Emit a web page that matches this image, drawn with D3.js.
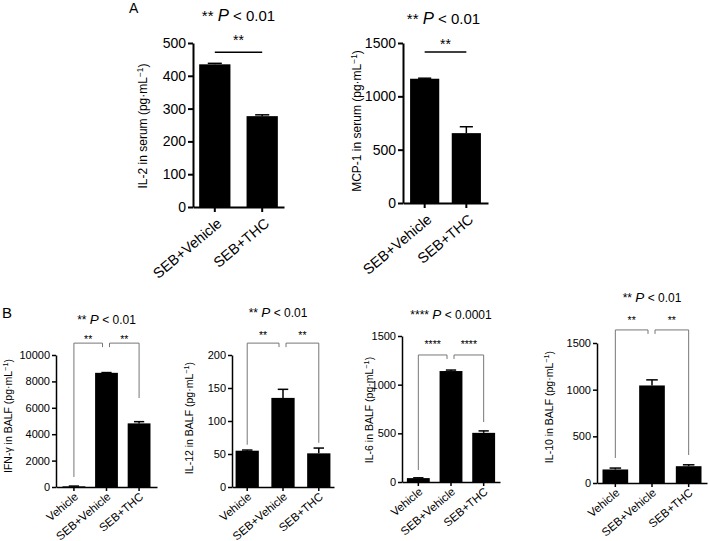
<!DOCTYPE html>
<html>
<head>
<meta charset="utf-8">
<script src="https://cdn.jsdelivr.net/npm/d3@7/dist/d3.min.js"></script>
<style>
  html, body { margin: 0; padding: 0; background: #fff; }
  svg { display: block; }
</style>
</head>
<body>
<svg id="chart" width="709" height="541"></svg>
<script>
// ---------------- DATA ----------------
const groupsA = ["SEB+Vehicle", "SEB+THC"];
const groupsB = ["Vehicle", "SEB+Vehicle", "SEB+THC"];

const il2Mean = [435, 277];
const il2Err = [3, 4];
const il2Ticks = [0, 100, 200, 300, 400, 500];

const mcp1Mean = [1165, 655];
const mcp1Err = [5, 60];
const mcp1Ticks = [0, 500, 1000, 1500];

const ifnMean = [50, 8650, 4820];
const ifnErr = [20, 20, 130];
const ifnTicks = [0, 2000, 4000, 6000, 8000, 10000];

const il12Mean = [55, 135, 51];
const il12Err = [1, 13, 8];
const il12Ticks = [0, 50, 100, 150, 200];

const il6Mean = [40, 1140, 505];
const il6Err = [3, 10, 20];
const il6Ticks = [0, 500, 1000, 1500];

const il10Mean = [145, 1045, 180];
const il10Err = [15, 60, 15];
const il10Ticks = [0, 500, 1000, 1500];

// significance annotations (values in data units: bracket top, left end, right end)
const il2Sig = ["**", 472];
const mcp1Sig = ["**", 1416];
const ifnSig = ["**", 10900, 760, 6740];
const il12Sig = ["**", 218, 64, 67];
const il6Sig = ["****", 1305, 123, 616];
const il10Sig = ["**", 1640, 268, 300];

const titles = {
  il2: ["** ", "P", " < 0.01"],
  mcp1: ["** ", "P", " < 0.01"],
  ifn: ["** ", "P", " < 0.01"],
  il12: ["** ", "P", " < 0.01"],
  il6: ["**** ", "P", " < 0.0001"],
  il10: ["** ", "P", " < 0.01"]
};

const yLabels = {
  il2: "IL-2 in serum",
  mcp1: "MCP-1 in serum",
  ifn: "IFN-γ in BALF",
  il12: "IL-12 in BALF",
  il6: "IL-6 in BALF",
  il10: "IL-10 in BALF"
};

// ---------------- DRAWING ----------------
const FONT = "'Liberation Sans', Arial, Helvetica, sans-serif";
const svg = d3.select("#chart").style("font-family", FONT);

function drawPanel(p) {
  const g = svg.append("g");
  const x = d3.scaleBand().domain(p.cats).range([p.x0, p.x1])
    .paddingInner(p.pin).paddingOuter(p.pout);
  const y = d3.scaleLinear().domain([0, p.max]).range([p.yBot, p.yTop]);

  // bars
  g.selectAll("rect.bar").data(p.mean).join("rect")
    .attr("x", (d, i) => x(p.cats[i]))
    .attr("width", x.bandwidth())
    .attr("y", d => y(d))
    .attr("height", d => y(0) - y(d))
    .attr("fill", "#000");

  // error bars (upper only)
  const capW = x.bandwidth() * 0.45;
  p.mean.forEach((m, i) => {
    const cx = x(p.cats[i]) + x.bandwidth() / 2;
    g.append("line").attr("x1", cx).attr("x2", cx)
      .attr("y1", y(m)).attr("y2", y(m + p.err[i]))
      .attr("stroke", "#000").attr("stroke-width", 1.5);
    g.append("line").attr("x1", cx - capW / 2).attr("x2", cx + capW / 2)
      .attr("y1", y(m + p.err[i])).attr("y2", y(m + p.err[i]))
      .attr("stroke", "#000").attr("stroke-width", 1.5);
  });

  // y axis
  const ya = g.append("g").attr("transform", `translate(${p.x0},0)`)
    .call(d3.axisLeft(y).tickValues(p.ticks).tickFormat(d3.format("d"))
      .tickSize(p.tick).tickSizeOuter(0).tickPadding(2));
  ya.selectAll("path,line").attr("stroke", "#000").attr("stroke-width", p.sw);
  ya.selectAll("text").attr("font-size", p.fs).attr("fill", "#000").attr("font-family", FONT);

  // x axis
  const xa = g.append("g").attr("transform", `translate(0,${p.yBot})`)
    .call(d3.axisBottom(x).tickSize(p.tick).tickSizeOuter(0));
  xa.selectAll("path,line").attr("stroke", "#000").attr("stroke-width", p.sw);
  xa.selectAll("text")
    .attr("font-size", p.cfs).attr("fill", "#000").attr("font-family", FONT)
    .attr("x", 0).attr("y", 0).attr("dy", 0)
    .attr("text-anchor", "end")
    .attr("transform", `translate(${p.lx},${p.ly}) rotate(${p.rot})`);

  // y label
  const lab = g.append("text")
    .attr("transform", `translate(${p.labX},${p.labY}) rotate(-90)`)
    .attr("text-anchor", "middle").attr("font-size", p.lfs).attr("fill", "#000");
  lab.append("tspan").text(p.label + " (pg·mL");
  lab.append("tspan").attr("dy", -p.lfs * 0.35).attr("font-size", p.lfs * 0.7).text("−1");
  lab.append("tspan").attr("dy", p.lfs * 0.35).text(")");

  // title
  const cx = (p.x0 + p.x1) / 2 + (p.tdx || 0);
  const t = g.append("text").attr("x", cx).attr("y", p.titleY)
    .attr("text-anchor", "middle").attr("font-size", p.tfs).attr("fill", "#000");
  t.append("tspan").text(p.title[0]);
  t.append("tspan").attr("font-style", "italic").attr("font-size", p.tfs * 1.12).text(p.title[1]);
  t.append("tspan").text(p.title[2]);

  const c = p.cats.map(k => x(k) + x.bandwidth() / 2);

  if (p.cats.length === 2) {
    const ly = y(p.sig[1]);
    g.append("line").attr("x1", c[0]).attr("x2", c[1]).attr("y1", ly).attr("y2", ly)
      .attr("stroke", "#000").attr("stroke-width", 1.5);
    g.append("text").attr("x", (c[0] + c[1]) / 2).attr("y", p.starY)
      .attr("text-anchor", "middle").attr("font-size", p.sfs).attr("fill", "#000").text(p.sig[0]);
  } else {
    const top = y(p.sig[1]);
    const col = "#777";
    const tip = 4;
    const leftEnd = c[1] - 4, rightStart = c[1] + 3;
    g.append("path")
      .attr("d", `M${c[0]},${y(p.sig[2])}V${top}H${leftEnd}V${top + tip}`)
      .attr("fill", "none").attr("stroke", col).attr("stroke-width", 1);
    g.append("path")
      .attr("d", `M${rightStart},${top + tip}V${top}H${c[2]}V${y(p.sig[3])}`)
      .attr("fill", "none").attr("stroke", col).attr("stroke-width", 1);
    g.append("text").attr("x", (c[0] + leftEnd) / 2).attr("y", p.starY)
      .attr("text-anchor", "middle").attr("font-size", p.sfs).attr("fill", "#000").text(p.sig[0]);
    g.append("text").attr("x", (rightStart + c[2]) / 2).attr("y", p.starY)
      .attr("text-anchor", "middle").attr("font-size", p.sfs).attr("fill", "#000").text(p.sig[0]);
  }
}

const baseA = { cats: groupsA, tick: 5, sw: 2, fs: 14, cfs: 14.5, lx: 8, ly: 18, rot: -40, lfs: 12, tfs: 15, sfs: 14 };
const baseB = { cats: groupsB, tick: 4, sw: 1.5, fs: 11, cfs: 11.5, lx: 5, ly: 11, rot: -40, lfs: 10.5, tfs: 12, sfs: 10.5 };

drawPanel(Object.assign({}, baseA, {
  mean: il2Mean, err: il2Err, ticks: il2Ticks, max: 500, sig: il2Sig,
  x0: 193, x1: 284, yTop: 43, yBot: 207, pin: 0.34, pout: 0.13,
  label: yLabels.il2, labX: 147, labY: 126, title: titles.il2, titleY: 21, starY: 45
}));
drawPanel(Object.assign({}, baseA, {
  mean: mcp1Mean, err: mcp1Err, ticks: mcp1Ticks, max: 1500, sig: mcp1Sig,
  x0: 403, x1: 488, yTop: 43, yBot: 203, pin: 0.3, pout: 0.17,
  label: yLabels.mcp1, labX: 361, labY: 121, title: titles.mcp1, titleY: 24, starY: 49, tdx: -2
}));
drawPanel(Object.assign({}, baseB, {
  mean: ifnMean, err: ifnErr, ticks: ifnTicks, max: 10000, sig: ifnSig,
  x0: 56, x1: 157, yTop: 355, yBot: 487, pin: 0.3, pout: 0.2,
  label: yLabels.ifn, labX: 12, labY: 416, title: titles.ifn, titleY: 324, starY: 343
}));
drawPanel(Object.assign({}, baseB, {
  mean: il12Mean, err: il12Err, ticks: il12Ticks, max: 200, sig: il12Sig,
  x0: 232, x1: 334, yTop: 355, yBot: 487, pin: 0.35, pout: 0.1,
  label: yLabels.il12, labX: 193, labY: 418, title: titles.il12, titleY: 317, starY: 339, tdx: -5
}));
drawPanel(Object.assign({}, baseB, {
  mean: il6Mean, err: il6Err, ticks: il6Ticks, max: 1500, sig: il6Sig,
  x0: 402, x1: 500, yTop: 336, yBot: 482, pin: 0.3, pout: 0.15,
  label: yLabels.il6, labX: 373, labY: 410, title: titles.il6, titleY: 319, starY: 348
}));
drawPanel(Object.assign({}, baseB, {
  mean: il10Mean, err: il10Err, ticks: il10Ticks, max: 1500, sig: il10Sig,
  x0: 597, x1: 707, yTop: 343, yBot: 483, pin: 0.3, pout: 0.15,
  label: yLabels.il10, labX: 553, labY: 407, title: titles.il10, titleY: 302, starY: 324
}));

// panel letters
svg.append("text").attr("x", 129).attr("y", 13).attr("font-size", 14).attr("fill", "#000").text("A");
svg.append("text").attr("x", 2).attr("y", 318).attr("font-size", 15).attr("fill", "#000").text("B");
</script>
</body>
</html>
